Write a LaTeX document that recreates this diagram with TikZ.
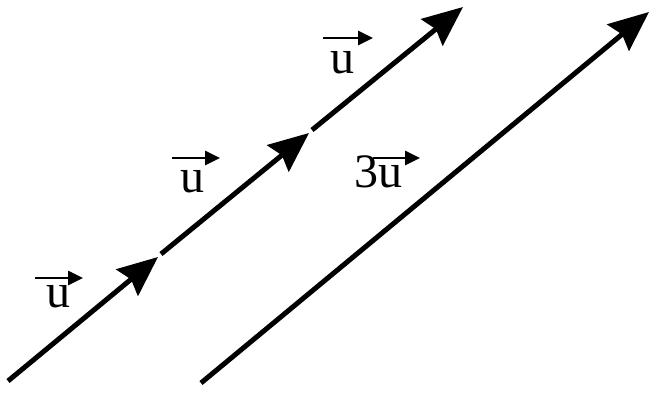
\documentclass[tikz,border=0pt]{standalone}
\usepackage{fontspec}
\setmainfont{Liberation Serif}
\usetikzlibrary{arrows.meta}
\begin{document}
\begin{tikzpicture}[x=1pt,y=-1pt,
  vec/.style={line width=5pt,-{Stealth[length=40pt,width=34pt,inset=5pt]}},
  overarr/.style={line width=2.6pt,-{Triangle[length=15pt,width=14pt]}},
  lbl/.style={inner sep=0pt,anchor=base,font=\fontsize{48}{48}\selectfont}]
\useasboundingbox (0,0) rectangle (651,394);
\coordinate (a0) at (8,381);
\coordinate (a1) at (158,257);
\coordinate (b0) at (161,254);
\coordinate (b1) at (309,133);
\coordinate (c0) at (312,130);
\coordinate (c1) at (463,7);
\coordinate (d0) at (201,383);
\coordinate (d1) at (649,12);
\draw[vec] (a0) -- (a1);
\draw[vec] (b0) -- (b1);
\draw[vec] (c0) -- (c1);
\draw[vec] (d0) -- (d1);
\node[lbl] (u1) at (58,307) {u};
\node[lbl] (u2) at (192,192) {u};
\node[lbl] (u3) at (342,73) {u};
\node[lbl,anchor=base west] (u4) at (354,187) {3u};
\draw[overarr] ([shift={(-23,-29)}]u1.base) -- ([shift={(25,-29)}]u1.base);
\draw[overarr] ([shift={(-20,-34)}]u2.base) -- ([shift={(28,-34)}]u2.base);
\draw[overarr] ([shift={(-19,-35)}]u3.base) -- ([shift={(31,-35)}]u3.base);
\draw[overarr] ([shift={(19,-29)}]u4.base west) -- ([shift={(66,-29)}]u4.base west);
\end{tikzpicture}
\end{document}
